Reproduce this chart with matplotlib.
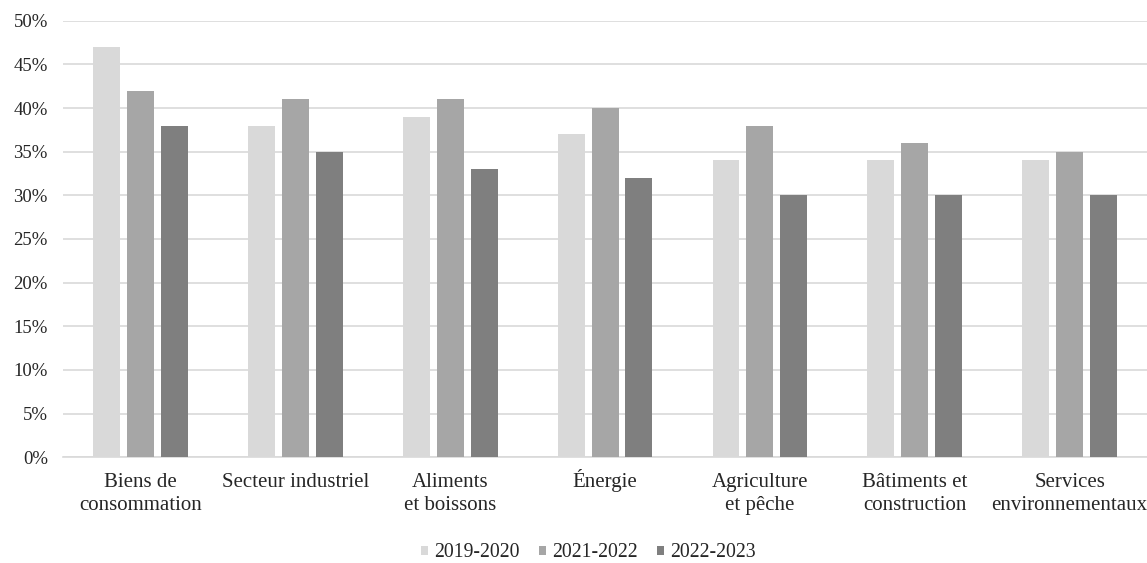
import numpy as np
import matplotlib.pyplot as plt
from matplotlib.ticker import PercentFormatter

categories = ["Biens de\nconsommation", "Secteur industriel", "Aliments\net boissons",
              "Énergie", "Agriculture\net pêche", "Bâtiments et\nconstruction",
              "Services\nenvironnementaux"]
periods = ["2019-2020", "2021-2022", "2022-2023"]
vals_2019 = [47, 38, 39, 37, 34, 34, 34]
vals_2021 = [42, 41, 41, 40, 38, 36, 35]
vals_2022 = [38, 35, 33, 32, 30, 30, 30]
colors = ["#d9d9d9", "#a6a6a6", "#7f7f7f"]
text_color = "#262626"

plt.rcParams['font.family'] = ['Liberation Serif', 'DejaVu Serif']

fig = plt.figure(figsize=(11.47, 5.63), dpi=100)
ax = fig.add_axes([0.055, 0.188, 0.945, 0.775])

x = np.arange(len(categories))
width = 0.174
step = 0.219
for i, (series, label) in enumerate(zip([vals_2019, vals_2021, vals_2022], periods)):
    ax.bar(x + (i - 1) * step, series, width, color=colors[i], label=label, zorder=3)

ax.set_xlim(-0.5, len(categories) - 0.5)
ax.set_ylim(0, 50)
ax.set_yticks(np.arange(0, 51, 5))
ax.yaxis.set_major_formatter(PercentFormatter(decimals=0))
ax.tick_params(axis='y', labelsize=13.5, labelcolor=text_color, length=0, pad=11)

# category names: one text per line, all first lines on the same baseline
ax.set_xticks(x)
ax.set_xticklabels([])
ax.tick_params(axis='x', length=0)
line_y = [-0.069, -0.122]
for xi, name in zip(x, categories):
    for ly, line in zip(line_y, name.split("\n")):
        ax.text(xi, ly, line, transform=ax.get_xaxis_transform(), ha='center',
                va='baseline', fontsize=15, color=text_color, clip_on=False)

ax.grid(axis='y', color="#d9d9d9", linewidth=1.2, zorder=0)
for side in ['top', 'right', 'left']:
    ax.spines[side].set_visible(False)
ax.spines['bottom'].set_color("#d9d9d9")
ax.spines['bottom'].set_linewidth(1.2)

fig.legend(loc='center', bbox_to_anchor=(0.513, 0.018), ncol=3, frameon=False,
           fontsize=14.2, handlelength=0.35, handleheight=0.35, handletextpad=0.3,
           columnspacing=1.0, labelcolor=text_color, borderpad=0)

fig.savefig("out.png", dpi=100)
